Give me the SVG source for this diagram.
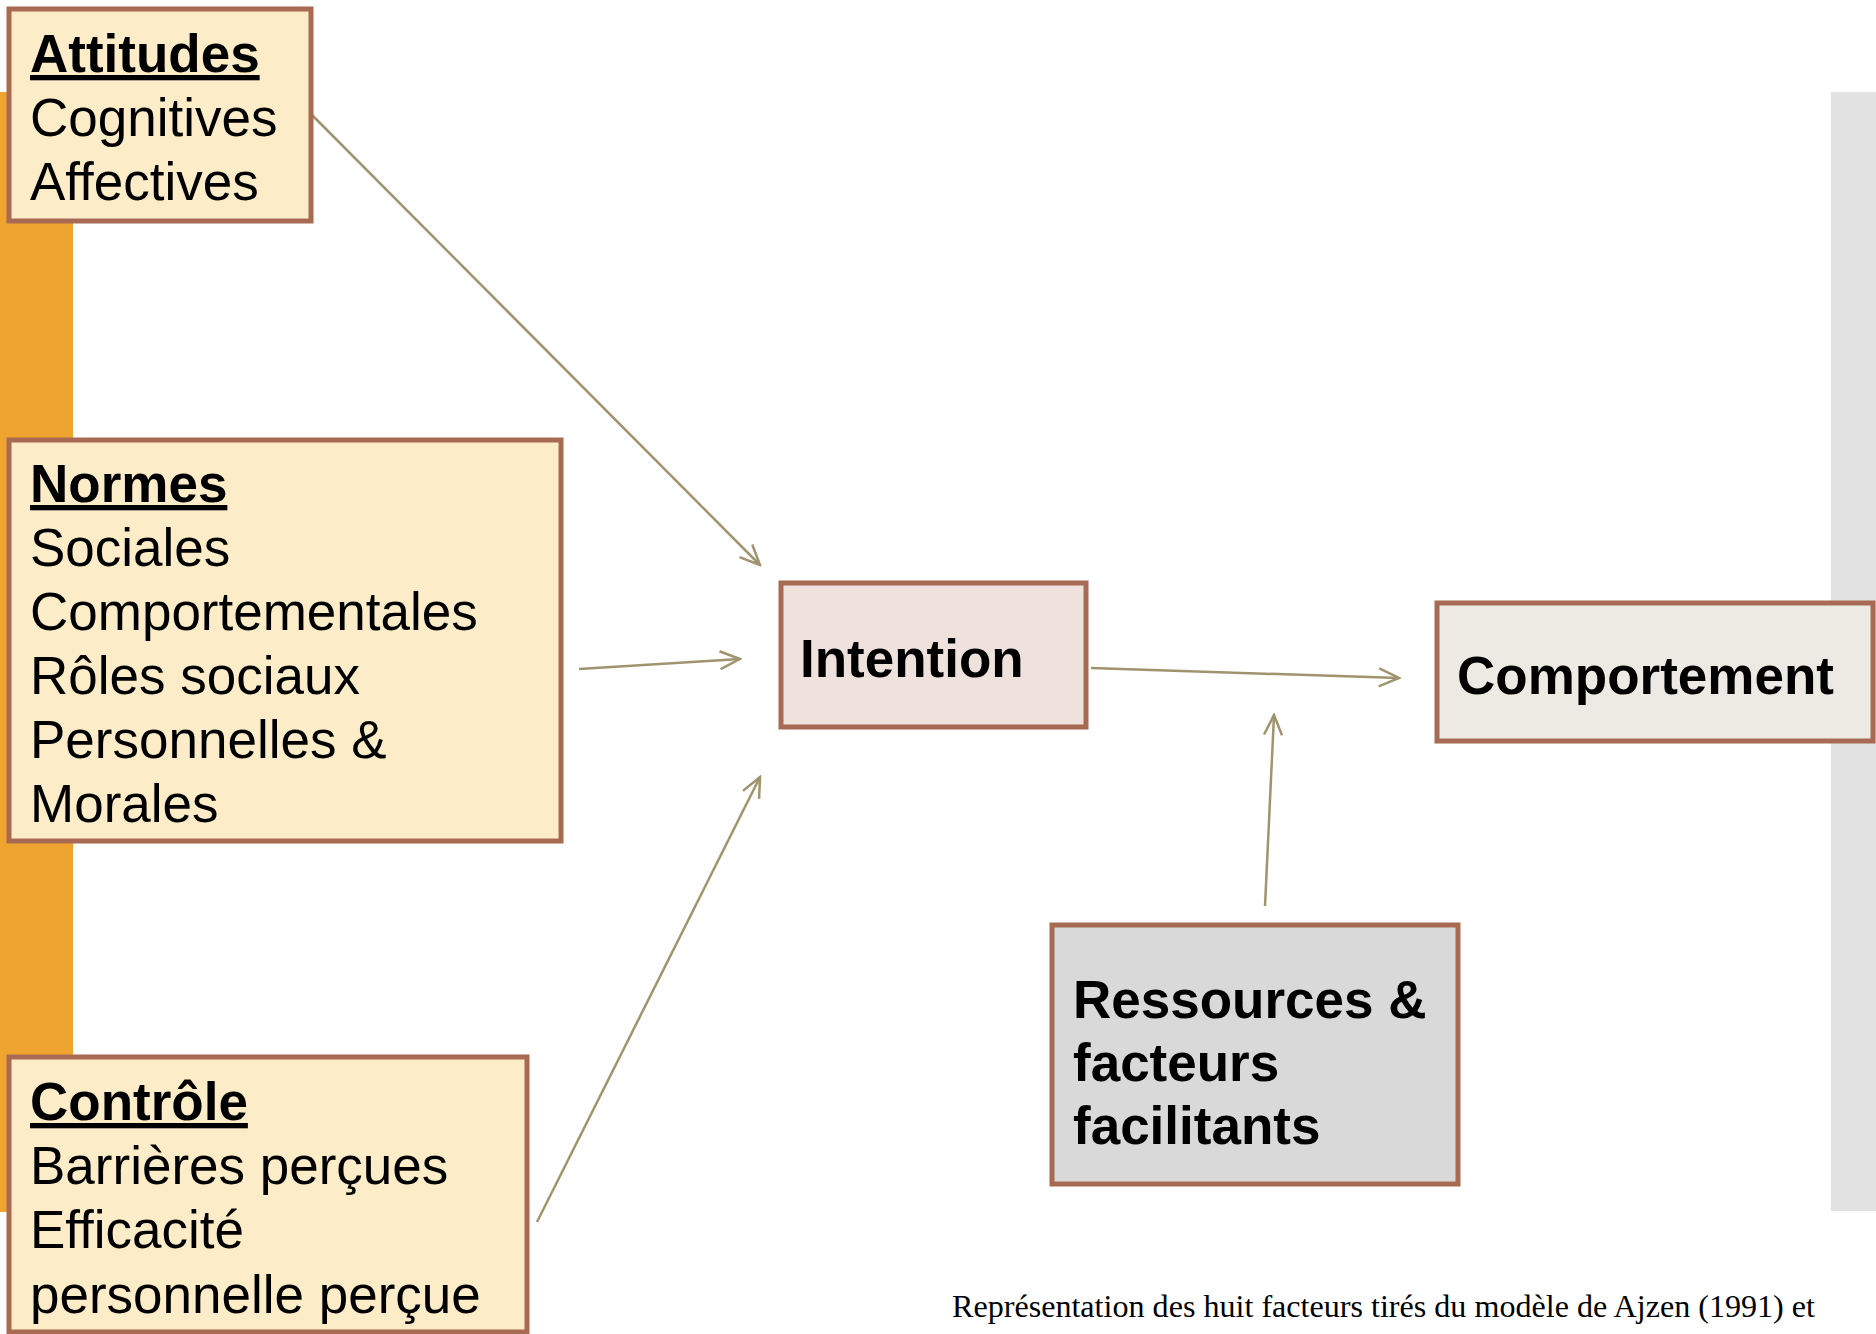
<svg xmlns="http://www.w3.org/2000/svg" width="1876" height="1334" viewBox="0 0 1876 1334">
<style>
.box{stroke:#a86a52;stroke-width:5}
.t{font-family:"Liberation Sans",Arial,sans-serif;font-size:53px;fill:#000}
.b{font-weight:bold}
.u{text-decoration:underline}
.cap{font-family:"Liberation Serif","Times New Roman",serif;font-size:32px;fill:#000}
.conn line{stroke:#a0946f;stroke-width:2.5;fill:none}
</style>
<defs>
<marker id="arr" markerUnits="userSpaceOnUse" viewBox="0 0 24 24" refX="22" refY="12" markerWidth="24" markerHeight="24" orient="auto">
<path d="M2,3 L22,12 L2,21" fill="none" stroke="#a0946f" stroke-width="2.5"/>
</marker>
</defs>
<rect width="1876" height="1334" fill="#ffffff"/>
<rect x="0" y="92" width="73" height="1120" fill="#f0a430"/>
<rect x="1831" y="92" width="45" height="1119" fill="#e2e2e2"/>
<g class="conn">
<line x1="310" y1="113" x2="760" y2="565" marker-end="url(#arr)"/>
<line x1="579" y1="669" x2="740" y2="659" marker-end="url(#arr)"/>
<line x1="537" y1="1222" x2="760" y2="777" marker-end="url(#arr)"/>
<line x1="1091" y1="668" x2="1399" y2="678" marker-end="url(#arr)"/>
<line x1="1265" y1="906" x2="1274" y2="715" marker-end="url(#arr)"/>
</g>
<g id="attitudes">
<rect class="box" x="9" y="9" width="302" height="212" fill="#fcedc8"/>
<text class="t b u" x="30" y="72">Attitudes</text>
<text class="t" x="30" y="136">Cognitives</text>
<text class="t" x="30" y="200">Affectives</text>
</g>
<g id="normes">
<rect class="box" x="9" y="440" width="552" height="401" fill="#fcedc8"/>
<text class="t b u" x="30" y="502">Normes</text>
<text class="t" x="30" y="566">Sociales</text>
<text class="t" x="30" y="630">Comportementales</text>
<text class="t" x="30" y="694">Rôles sociaux</text>
<text class="t" x="30" y="758">Personnelles &amp;</text>
<text class="t" x="30" y="822">Morales</text>
</g>
<g id="controle">
<rect class="box" x="9" y="1057" width="518" height="275" fill="#fcedc8"/>
<text class="t b u" x="30" y="1120">Contrôle</text>
<text class="t" x="30" y="1184">Barrières perçues</text>
<text class="t" x="30" y="1248">Efficacité</text>
<text class="t" x="30" y="1313">personnelle perçue</text>
</g>
<g id="intention">
<rect class="box" x="781" y="583" width="305" height="144" fill="#efe1dc"/>
<text class="t b" x="800" y="677">Intention</text>
</g>
<g id="comportement">
<rect class="box" x="1437" y="603" width="436" height="138" fill="#edeae3"/>
<text class="t b" x="1457" y="694">Comportement</text>
</g>
<g id="ressources">
<rect class="box" x="1052" y="925" width="406" height="259" fill="#d9d9d9"/>
<text class="t b" x="1073" y="1018">Ressources &amp;</text>
<text class="t b" x="1073" y="1081">facteurs</text>
<text class="t b" x="1073" y="1144">facilitants</text>
</g>
<text class="cap" x="952" y="1317" textLength="863" lengthAdjust="spacingAndGlyphs">Représentation des huit facteurs tirés du modèle de Ajzen (1991) et</text>
</svg>
